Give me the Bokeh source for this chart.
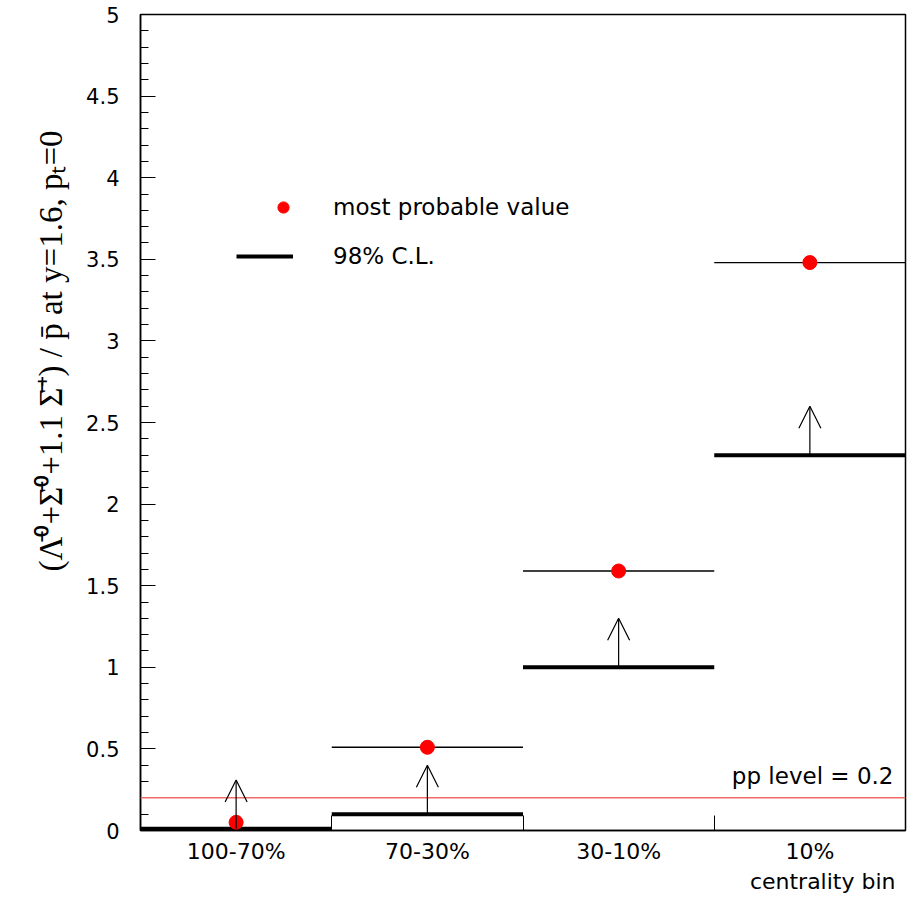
from bokeh.plotting import figure
from bokeh.models import (ColumnDataSource, Range1d, FixedTicker, SingleIntervalTicker,
                          Span, Label, Legend, LegendItem, Arrow, OpenHead, Title)
from bokeh.embed import file_html
from bokeh.resources import INLINE

# ---------------- data ----------------
categories = ["100-70%", "70-30%", "30-10%", "10%"]
bin_edges = [0, 1, 2, 3, 4]
most_probable = [0.05, 0.51, 1.59, 3.48]
lower_limit_98 = [0.01, 0.10, 1.00, 2.30]
show_mpv_bar = [False, True, True, True]
pp_level = 0.2
arrow_length = 0.3
y_ticks = [0, 0.5, 1, 1.5, 2, 2.5, 3, 3.5, 4, 4.5, 5]
y_tick_labels = ["0", "0.5", "1", "1.5", "2", "2.5", "3", "3.5", "4", "4.5", "5"]
y_title = "(\u039B\u0304\u2070+\u03A3\u0304\u2070+1.1 \u03A3\u0304\u207A) / p\u0304 at y=1.6, p\u209C=0"
x_title = "centrality bin"

FONT = "DejaVu Sans"

left = bin_edges[:-1]
right = bin_edges[1:]
centers = [(a + b) / 2 for a, b in zip(left, right)]

src = ColumnDataSource(dict(
    x0=left, x1=right, xc=centers,
    mpv=most_probable, lo=lower_limit_98,
    tip=[v + arrow_length for v in lower_limit_98],
))
bar_idx = [i for i, s in enumerate(show_mpv_bar) if s]
src_bar = ColumnDataSource(dict(
    x0=[left[i] for i in bar_idx], x1=[right[i] for i in bar_idx],
    y=[most_probable[i] for i in bar_idx],
))

p = figure(width=910, height=905, output_backend="svg", toolbar_location=None,
           x_range=Range1d(bin_edges[0], bin_edges[-1]), y_range=Range1d(0, 5),
           min_border_left=140, min_border_right=5, min_border_top=14, min_border_bottom=75)
p.background_fill_color = "white"
p.border_fill_color = "white"
p.outline_line_color = "black"
p.outline_line_width = 1.5
p.xgrid.visible = False
p.ygrid.visible = False

# y axis
ya = p.yaxis[0]
ya.ticker = SingleIntervalTicker(interval=0.5, num_minor_ticks=5)
ya.major_label_overrides = {t: l for t, l in zip(y_ticks, y_tick_labels)}
ya.major_tick_in = 15
ya.major_tick_out = 0
ya.minor_tick_in = 8
ya.minor_tick_out = 0
ya.major_label_standoff = 21
ya.major_label_text_font = FONT
ya.major_label_text_font_size = "21px"
ya.major_label_text_color = "black"
ya.axis_line_color = "black"
ya.axis_line_width = 1.5
ya.major_tick_line_color = "black"
ya.minor_tick_line_color = "black"

# x axis
xa = p.xaxis[0]
xa.ticker = FixedTicker(ticks=centers, minor_ticks=bin_edges[1:-1])
xa.major_label_overrides = {c: n for c, n in zip(centers, categories)}
xa.major_tick_in = 0
xa.major_tick_out = 0
xa.minor_tick_in = 15
xa.minor_tick_out = 0
xa.minor_tick_line_color = "black"
xa.major_label_standoff = 8
xa.major_label_text_font = FONT
xa.major_label_text_font_size = "22px"
xa.major_label_text_color = "black"
xa.axis_line_color = "black"
xa.axis_line_width = 1.5

# pp reference line
p.add_layout(Span(location=pp_level, dimension="width", line_color="#f06a6a", line_width=1.5))

# 98% CL lower limits (thick)
thick = p.segment(x0="x0", x1="x1", y0="lo", y1="lo", source=src,
                  line_color="black", line_width=4)
# most probable value bars (thin)
p.segment(x0="x0", x1="x1", y0="y", y1="y", source=src_bar,
          line_color="black", line_width=1.3)

# arrows
p.add_layout(Arrow(end=OpenHead(size=22, line_width=1.2, line_color="black"),
                   x_start="xc", y_start="lo", x_end="xc", y_end="tip", source=src,
                   line_color="black", line_width=1.2))

# most probable value dots
dots = p.scatter(x="xc", y="mpv", source=src, size=14, color="#ff0000", line_color="#ff0000")

# legends (two, so glyphs sit like the original)
common = dict(border_line_color=None, background_fill_alpha=0, padding=0, margin=0,
              glyph_height=40, label_height=40,
              label_text_font=FONT, label_text_font_size="23px", label_text_color="black")
p.add_layout(Legend(items=[LegendItem(label="most probable value", renderers=[dots])],
                    location=(129, 603), glyph_width=28, label_standoff=36, **common))
p.add_layout(Legend(items=[LegendItem(label="98% C.L.", renderers=[thick])],
                    location=(96, 554), glyph_width=57, label_standoff=40, **common))

# pp level text
p.add_layout(Label(x=bin_edges[-1], y=pp_level, x_offset=-12, y_offset=22,
                   text=f"pp level = {pp_level}", text_align="right",
                   text_baseline="alphabetic", text_font=FONT,
                   text_font_size="23px", text_color="black"))

# axis titles
p.add_layout(Title(text=x_title, align="right", offset=10, vertical_align="top",
                   standoff=4, text_font=FONT, text_font_size="22px",
                   text_font_style="normal", text_color="black"), "below")
p.add_layout(Title(text=y_title, align="right", offset=116, vertical_align="middle",
                   standoff=27, text_font="Liberation Serif", text_font_size="33px",
                   text_font_style="normal", text_color="black"), "left")

open("out.html", "w").write(file_html(p, INLINE))
